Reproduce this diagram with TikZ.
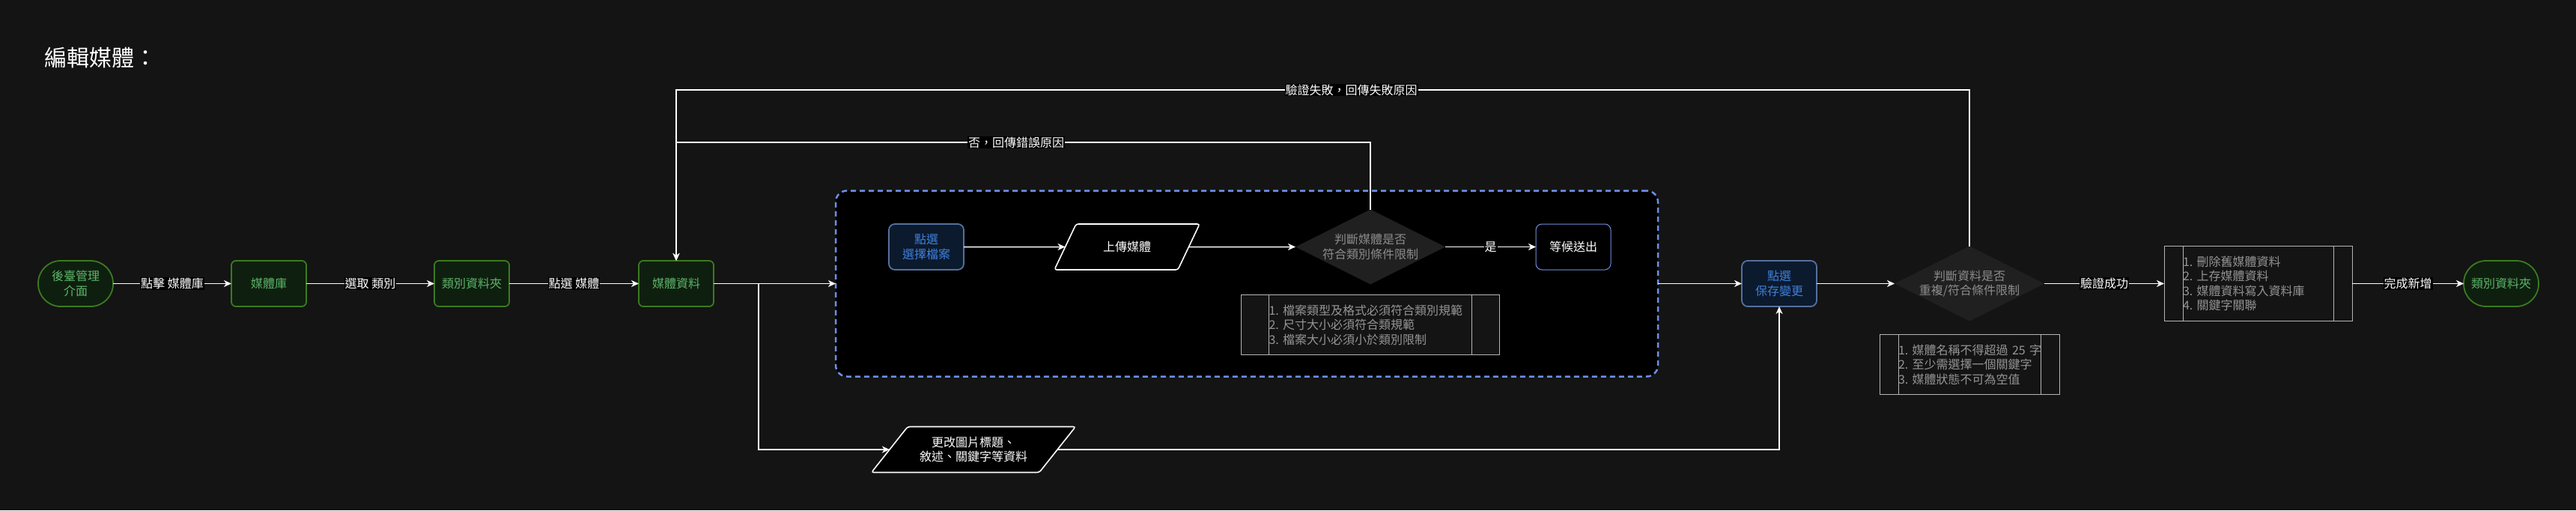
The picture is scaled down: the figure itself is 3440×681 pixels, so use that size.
\documentclass[tikz,border=0pt]{standalone}
\usepackage{fontspec}
\setmainfont{Noto Sans CJK TC}
\usetikzlibrary{arrows.meta,positioning,shapes.geometric,calc}
\definecolor{canvas}{HTML}{141414}
\definecolor{grnfill}{HTML}{0F1F0F}
\definecolor{grnline}{HTML}{3B7A21}
\definecolor{grntext}{HTML}{5DB56A}
\definecolor{blufill}{HTML}{0C1A2D}
\definecolor{bluline}{HTML}{55709E}
\definecolor{blutext}{HTML}{3F80DD}
\definecolor{areaedge}{HTML}{6D8EEA}
\definecolor{waitline}{HTML}{6F8FE0}
\definecolor{gatefill}{HTML}{202020}
\definecolor{gatetext}{HTML}{8C8C8C}
\definecolor{noteline}{HTML}{B5B5B5}
\definecolor{notetext}{HTML}{959595}
\newcommand{\txt}{\fontsize{16}{19.5}\selectfont}
\tikzset{
  base/.style={align=center, font=\txt, inner sep=2pt, outer sep=0pt,
               minimum width=100pt, minimum height=61pt},
  grn/.style={base, rectangle, rounded corners=6pt, draw=grnline,
              line width=1.8pt, fill=grnfill, text=grntext},
  term/.style={grn, rounded corners=30pt},
  blu/.style={base, rectangle, rounded corners=8pt, draw=bluline,
              line width=1.8pt, fill=blufill, text=blutext},
  waitbox/.style={base, rectangle, rounded corners=8pt, draw=waitline,
                  line width=1pt, fill=black, text=white},
  io/.style={base, trapezium, trapezium stretches=true, draw=white,
             line width=1.6pt, fill=black, text=white, inner xsep=0pt,
             rounded corners=3pt},
  gate/.style={diamond, aspect=2, align=center, font=\txt, fill=gatefill,
               text=gatetext, inner sep=-6pt, outer sep=0pt,
               minimum width=200pt, minimum height=100pt},
  notebox/.style={rectangle, draw=noteline, line width=1pt, fill=canvas,
                  text=notetext, align=left, font=\txt, inner xsep=#1,
                  inner ysep=2pt, outer sep=0pt,
                  path picture={\draw[noteline, line width=1pt]
                    ([xshift=#1]path picture bounding box.north west) --
                    ([xshift=#1]path picture bounding box.south west)
                    ([xshift=-#1]path picture bounding box.north east) --
                    ([xshift=-#1]path picture bounding box.south east);}},
  area/.style={rectangle, draw=areaedge, line width=2.5pt, outer sep=0pt,
               dash pattern=on 7pt off 5pt, fill=black, rounded corners=15pt,
               minimum width=1098pt, minimum height=248pt},
  fl/.style={-{Stealth[length=10pt,width=9pt,inset=3pt]}, draw=white,
             line width=1.5pt},
  elbl/.style={font=\txt, text=white, fill=black, inner sep=1pt}
}

\begin{document}
\begin{tikzpicture}[x=1pt,y=-1pt]
  \useasboundingbox (0,0) rectangle (3440,681);
  \fill[canvas] (0,0) rectangle (3440,681);

  \node[anchor=west, text=white, font=\fontsize{30}{36}\selectfont] (title) at (56,77) {編輯媒體：};

  % main row
  \node[term] (admin) at (101,378.5) {後臺管理\\介面};
  \node[grn, right=158pt of admin] (lib) {媒體庫};
  \node[grn, right=171pt of lib] (folder) {類別資料夾};
  \node[grn, right=173pt of folder] (media) {媒體資料};
  \node[area, right=163pt of media] (area) {};

  % upload group
  \node[blu] (pick) at (1237,329.5) {點選\\選擇檔案};
  \node[io, trapezium left angle=54, trapezium right angle=126,
        minimum width=195pt] (upload) at (1505,329.5) {上傳媒體};
  \node[gate] (chk) at (1830,329.5) {判斷媒體是否\\符合類別條件限制};
  \node[waitbox, right=121pt of chk] (wait) {等候送出};
  \node[notebox=37pt, text width=271pt, minimum height=80pt,
        below=14pt of chk] (rule1) {1.~檔案類型及格式必須符合類別規範\\2.~尺寸大小必須符合類規範\\3.~檔案大小必須小於類別限制};

  \node[io, trapezium left angle=44, trapezium right angle=136,
        minimum width=273pt] (editinfo) at (1300,600) {更改圖片標題、\\敘述、關鍵字等資料};

  % save + verify
  \node[blu, right=112pt of area] (save) {點選\\保存變更};
  \node[gate, right=104pt of save] (verify) {判斷資料是否\\重複/符合條件限制};
  \node[notebox=25pt, text width=190pt, minimum height=80pt,
        below=18pt of verify] (rule2) {1.~媒體名稱不得超過~25~字\\2.~至少需選擇一個關鍵字\\3.~媒體狀態不可為空值};
  \node[notebox=25pt, text width=201pt, minimum height=100pt,
        right=160pt of verify] (steps) {1.~刪除舊媒體資料\\2.~上存媒體資料\\3.~媒體資料寫入資料庫\\4.~關鍵字關聯};
  \node[term, right=149pt of steps] (done) {類別資料夾};

  \coordinate (split) at ($(media.east)+(60,0)$);
  \coordinate (back1) at ($(media.north)+(0,-158)$);
  \coordinate (back2) at ($(media.north)+(0,-228)$);

  \draw[fl] (admin) -- node[elbl]{點擊 媒體庫} (lib);
  \draw[fl] (lib) -- node[elbl]{選取 類別} (folder);
  \draw[fl] (folder) -- node[elbl]{點選 媒體} (media);
  \draw[fl] (media) -- (area);
  \draw[fl] (split) |- (editinfo);
  \draw[fl] (pick) -- (upload);
  \draw[fl] (upload) -- (chk);
  \draw[fl] (chk) -- node[elbl]{是} (wait);
  \draw[fl] (chk.north) |- node[elbl, pos=0.755]{否，回傳錯誤原因} (back1) -- (media.north);
  \draw[fl] (area) -- (save);
  \draw[fl] (editinfo) -| (save);
  \draw[fl] (save) -- (verify);
  \draw[fl] (verify.north) |- node[elbl, pos=0.739]{驗證失敗，回傳失敗原因} (back2) -- (media.north);
  \draw[fl] (verify) -- node[elbl]{驗證成功} (steps);
  \draw[fl] (steps) -- node[elbl]{完成新增} (done);
\end{tikzpicture}
\end{document}
